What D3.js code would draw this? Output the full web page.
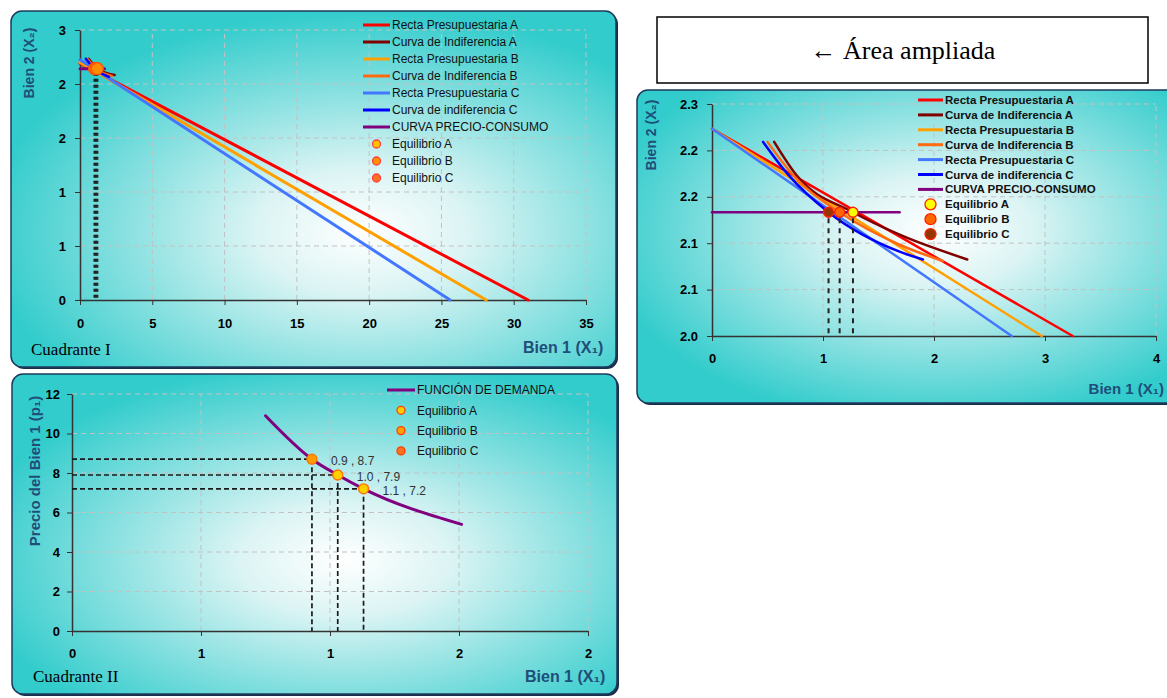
<!DOCTYPE html>
<html>
<head>
<meta charset="utf-8">
<script src="https://cdn.jsdelivr.net/npm/d3@7"></script>
<style>
  body { margin: 0; background: #fff; }
  svg { display: block; }
</style>
</head>
<body>
<svg width="1167" height="698"></svg>
<script>
// ---------- datos ----------
const legendNames = ["Recta Presupuestaria A", "Curva de Indiferencia A", "Recta Presupuestaria B",
  "Curva de Indiferencia B", "Recta Presupuestaria C", "Curva de indiferencia C", "CURVA PRECIO-CONSUMO"];
const eqNames = ["Equilibrio A", "Equilibrio B", "Equilibrio C"];

// Cuadrante I
const q1XTicks = [0, 5, 10, 15, 20, 25, 30, 35];
const q1YTicks = [0, 0.6, 1.2, 1.8, 2.4, 3.0];
const q1YLabels = ["0", "1", "1", "2", "2", "3"];
const q1RectaA = [[0, 2.63], [31.0, 0]];
const q1RectaB = [[0, 2.64], [28.1, 0]];
const q1RectaC = [[0, 2.67], [25.6, 0]];
const q1CurvaA = [[0.6, 2.68], [1.2, 2.57], [2.4, 2.50]];
const q1CurvaB = [[0.5, 2.68], [1.1, 2.57], [2.2, 2.49]];
const q1CurvaC = [[0.4, 2.68], [1.0, 2.57], [2.0, 2.48]];
const q1PrecioConsumo = [[0, 2.57], [1.7, 2.57]];
const q1Equilibrio = [[1.2, 2.57], [1.1, 2.57], [1.0, 2.57]];

// Área ampliada
const zXTicks = [0, 1, 2, 3, 4];
const zYTicks = [2.0, 2.06, 2.12, 2.18, 2.24, 2.3];
const zYLabels = ["2.0", "2.1", "2.1", "2.2", "2.2", "2.3"];
const zRectaA = [[0, 2.268], [3.25, 2.0]];
const zRectaB = [[0, 2.268], [2.97, 2.0]];
const zRectaC = [[0, 2.268], [2.70, 2.0]];
const zCurvaA = [[0.56, 2.251], [0.76, 2.208], [1.27, 2.16], [1.69, 2.131], [2.30, 2.099]];
const zCurvaB = [[0.50, 2.251], [0.73, 2.208], [1.15, 2.16], [1.69, 2.118], [2.08, 2.097]];
const zCurvaC = [[0.46, 2.251], [0.69, 2.208], [1.05, 2.16], [1.69, 2.109], [1.90, 2.099]];
const zPrecioConsumo = [[0, 2.16], [1.69, 2.16]];
const zEquilibrio = [[1.27, 2.16], [1.15, 2.16], [1.05, 2.16]];

// Cuadrante II
const q2XTicks = [0, 0.5, 1, 1.5, 2];
const q2XLabels = ["0", "1", "1", "2", "2"];
const q2YTicks = [0, 2, 4, 6, 8, 10, 12];
const demanda = [[0.75, 10.9], [0.93, 8.7], [1.03, 7.9], [1.13, 7.2], [1.51, 5.4]];
const q2Equilibrio = [[0.93, 8.7], [1.03, 7.9], [1.13, 7.2]];
const q2EqLabels = ["0.9 , 8.7", "1.0 , 7.9", "1.1 , 7.2"];

// ---------- estilos ----------
const lineColors = ["#ff0000", "#800000", "#ffa000", "#ff6a10", "#4477ff", "#0000ff", "#800080"];
const eqFill = ["#ffff00", "#ff6600", "#993300"];
const sans = "'Liberation Sans', Arial, sans-serif";
const serif = "'Liberation Serif', 'Times New Roman', serif";
const titleColor = "#1f4e79";

const svg = d3.select("svg");
const defs = svg.append("defs");

const addGradient = (id, cx, cy, r) => {
  const gr = defs.append("radialGradient").attr("id", id)
    .attr("cx", cx).attr("cy", cy).attr("r", r);
  gr.append("stop").attr("offset", "0%").attr("stop-color", "#ffffff");
  gr.append("stop").attr("offset", "28%").attr("stop-color", "#dcf4f4");
  gr.append("stop").attr("offset", "100%").attr("stop-color", "#33cccc");
};
addGradient("g1", "58%", "62%", "62%");
addGradient("g2", "55%", "45%", "62%");
addGradient("g3", "55%", "58%", "62%");

const drawBox = (x, y, w, h, grad) => {
  svg.append("rect").attr("x", x + 2).attr("y", y + 2).attr("width", w).attr("height", h)
    .attr("rx", 11).attr("fill", "#1a2e4c");
  svg.append("rect").attr("x", x).attr("y", y).attr("width", w).attr("height", h)
    .attr("rx", 11).attr("fill", `url(#${grad})`)
    .attr("stroke", "#1f3a5c").attr("stroke-width", 1.5);
};

const drawAxes = (x, y, xTicks, xLabels, yTicks, yLabels, xPad, yPad) => {
  const [y0, y1] = y.range();
  const [x0, x1] = x.range();
  const grid = svg.append("g").attr("stroke", "#c2c2c2").attr("stroke-dasharray", "5,4").attr("stroke-width", 1);
  grid.selectAll(".v").data(xTicks.slice(1)).join("line")
    .attr("x1", d => x(d)).attr("x2", d => x(d)).attr("y1", y0).attr("y2", y1);
  grid.selectAll(".h").data(yTicks.slice(1)).join("line")
    .attr("x1", x0).attr("x2", x1).attr("y1", d => y(d)).attr("y2", d => y(d));

  const ax = svg.append("g").attr("transform", `translate(0,${y0})`)
    .call(d3.axisBottom(x).tickValues(xTicks).tickFormat((d, i) => xLabels ? xLabels[i] : d)
      .tickSize(5).tickSizeOuter(0).tickPadding(xPad));
  const ay = svg.append("g").attr("transform", `translate(${x0},0)`)
    .call(d3.axisLeft(y).tickValues(yTicks).tickFormat((d, i) => yLabels ? yLabels[i] : d)
      .tickSize(5).tickSizeOuter(0).tickPadding(yPad));
  [ax, ay].forEach(a => {
    a.selectAll("text").attr("font-family", sans).attr("font-weight", "bold")
      .attr("font-size", 13).attr("fill", "#000");
    a.selectAll("line").attr("stroke", "#333");
    a.select(".domain").attr("stroke", "#333").attr("stroke-width", 1.5);
  });
};

const drawLegend = (items, x0, y0, dy, fontSize, weight, lineLen, r) => {
  const g = svg.append("g");
  items.forEach((it, i) => {
    const yy = y0 + i * dy;
    if (it.type === "line") {
      g.append("line").attr("x1", x0).attr("x2", x0 + lineLen).attr("y1", yy).attr("y2", yy)
        .attr("stroke", it.color).attr("stroke-width", 3);
    } else {
      g.append("circle").attr("cx", x0 + lineLen / 2).attr("cy", yy).attr("r", r)
        .attr("fill", it.color).attr("stroke", it.stroke).attr("stroke-width", 1.3);
    }
    g.append("text").attr("x", x0 + lineLen + 2).attr("y", yy).attr("dy", "0.35em")
      .attr("font-family", sans).attr("font-size", fontSize).attr("font-weight", weight)
      .attr("fill", "#111").text(it.label);
  });
};

const axisTitleY = (text, x, y, size) => {
  svg.append("text").attr("transform", `translate(${x},${y}) rotate(-90)`)
    .attr("text-anchor", "middle").attr("dy", "0.35em")
    .attr("font-family", sans).attr("font-weight", "bold").attr("font-size", size)
    .attr("fill", titleColor).text(text);
};
const axisTitleX = (text, x, y, size, anchor) => {
  svg.append("text").attr("x", x).attr("y", y).attr("dy", "0.35em")
    .attr("text-anchor", anchor || "start")
    .attr("font-family", sans).attr("font-weight", "bold").attr("font-size", size)
    .attr("fill", titleColor).text(text);
};

const curve = (sx, sy, data, color, width, kind) => {
  const line = d3.line().x(d => sx(d[0])).y(d => sy(d[1]))
    .curve(kind === "smooth" ? d3.curveMonotoneX : d3.curveLinear);
  svg.append("path").datum(data).attr("d", line)
    .attr("fill", "none").attr("stroke", color).attr("stroke-width", width)
    .attr("stroke-linecap", "round");
};

const lineItems = legendNames.map((n, i) => ({label: n, color: lineColors[i], type: "line"}));
const dotItems = eqNames.map((n, i) => ({label: n, color: eqFill[i], stroke: "#ff2000", type: "dot"}));

// ---------- Cuadrante I ----------
drawBox(11, 11, 605, 356, "g1");
const x1 = d3.scaleLinear().domain([0, 35]).range([80, 586]);
const y1 = d3.scaleLinear().domain([0, 3]).range([300, 30]);
drawAxes(x1, y1, q1XTicks, null, q1YTicks, q1YLabels, 14, 9);

[q1RectaA, q1RectaB, q1RectaC].forEach((d, i) => curve(x1, y1, d, lineColors[i * 2], 3, "line"));
[q1CurvaA, q1CurvaB, q1CurvaC].forEach((d, i) => curve(x1, y1, d, lineColors[i * 2 + 1], 2.5, "smooth"));
curve(x1, y1, q1PrecioConsumo, lineColors[6], 3, "line");
svg.append("g").selectAll("line").data(q1Equilibrio).join("line")
  .attr("x1", d => x1(d[0])).attr("x2", d => x1(d[0]))
  .attr("y1", d => y1(d[1]) + 4).attr("y2", y1(0))
  .attr("stroke", "#222").attr("stroke-width", 2).attr("stroke-dasharray", "3,3");
svg.append("g").selectAll("circle").data(q1Equilibrio.slice().reverse()).join("circle")
  .attr("cx", d => x1(d[0])).attr("cy", d => y1(d[1])).attr("r", 6)
  .attr("fill", "#ff8c00").attr("stroke", "#ff5000").attr("stroke-width", 1.2);

drawLegend(lineItems.concat(dotItems.map((d, i) => ({...d, color: ["#ffc000", "#ff9000", "#ff7020"][i], stroke: "#ff4040"}))),
  363, 25, 17, 12, "normal", 27, 4);
axisTitleY("Bien 2 (X₂)", 29, 63, 14);
axisTitleX("Bien 1 (X₁)", 523, 347, 16);
svg.append("text").attr("x", 31).attr("y", 355).attr("font-family", serif)
  .attr("font-size", 17).text("Cuadrante I");

// ---------- Área ampliada ----------
svg.append("rect").attr("x", 657).attr("y", 17).attr("width", 491).attr("height", 66)
  .attr("fill", "#fff").attr("stroke", "#000").attr("stroke-width", 1.5);
svg.append("text").attr("x", 903).attr("y", 59).attr("text-anchor", "middle")
  .attr("font-family", serif).attr("font-size", 26).text("← Área ampliada");

drawBox(637, 90, 545, 313, "g2");
const x2 = d3.scaleLinear().domain([0, 4]).range([712, 1156]);
const y2 = d3.scaleLinear().domain([2.0, 2.3]).range([336, 104]);
drawAxes(x2, y2, zXTicks, null, zYTicks, zYLabels, 13, 9);

[zRectaA, zRectaB, zRectaC].forEach((d, i) => curve(x2, y2, d, lineColors[i * 2], 2.5, "line"));
[zCurvaA, zCurvaB, zCurvaC].forEach((d, i) => curve(x2, y2, d, lineColors[i * 2 + 1], 2.5, "smooth"));
curve(x2, y2, zPrecioConsumo, lineColors[6], 2.5, "line");
svg.append("g").selectAll("line").data(zEquilibrio).join("line")
  .attr("x1", d => x2(d[0])).attr("x2", d => x2(d[0]))
  .attr("y1", d => y2(d[1]) + 6).attr("y2", y2(2.0))
  .attr("stroke", "#222").attr("stroke-width", 2).attr("stroke-dasharray", "5,5");
svg.append("g").selectAll("circle").data(zEquilibrio).join("circle")
  .attr("cx", d => x2(d[0])).attr("cy", d => y2(d[1])).attr("r", 5)
  .attr("fill", (d, i) => eqFill[i]).attr("stroke", "#ff2000").attr("stroke-width", 1.3);

drawLegend(lineItems.concat(dotItems), 918, 100, 14.9, 11.5, "bold", 25, 5.5);
axisTitleY("Bien 2 (X₂)", 651, 135, 14);
axisTitleX("Bien 1 (X₁)", 1164, 389, 15, "end");

// ---------- Cuadrante II ----------
drawBox(12, 374, 605, 320, "g3");
const x3 = d3.scaleLinear().domain([0, 2]).range([72, 588]);
const y3 = d3.scaleLinear().domain([0, 12]).range([631, 394]);
drawAxes(x3, y3, q2XTicks, q2XLabels, q2YTicks, null, 13, 7);

const dashes = svg.append("g").attr("stroke", "#1a1a1a").attr("stroke-width", 1.7).attr("stroke-dasharray", "5,3");
dashes.selectAll(".h").data(q2Equilibrio).join("line")
  .attr("x1", x3(0)).attr("x2", d => x3(d[0])).attr("y1", d => y3(d[1])).attr("y2", d => y3(d[1]));
dashes.selectAll(".v").data(q2Equilibrio).join("line")
  .attr("x1", d => x3(d[0])).attr("x2", d => x3(d[0])).attr("y1", d => y3(d[1])).attr("y2", y3(0));
curve(x3, y3, demanda, lineColors[6], 3, "smooth");
svg.append("g").selectAll("circle").data(q2Equilibrio).join("circle")
  .attr("cx", d => x3(d[0])).attr("cy", d => y3(d[1])).attr("r", 5)
  .attr("fill", (d, i) => i === 0 ? "#ff9a00" : "#ffd000").attr("stroke", "#ff7000").attr("stroke-width", 1.3);
svg.append("g").selectAll("text").data(q2Equilibrio).join("text")
  .attr("x", d => x3(d[0]) + 19).attr("y", d => y3(d[1]) + 2).attr("dy", "0.35em")
  .attr("font-family", sans).attr("font-size", 12).attr("fill", "#333")
  .text((d, i) => q2EqLabels[i]);

drawLegend([{label: "FUNCIÓN DE DEMANDA", color: lineColors[6], type: "line"}]
  .concat(dotItems.map((d, i) => ({...d, color: ["#ffcc00", "#ffa000", "#ff7020"][i], stroke: "#ff4000"}))),
  387, 390, 20.3, 12, "normal", 28, 4);
axisTitleY("Precio del Bien 1 (p₁)", 35, 471, 15);
axisTitleX("Bien 1 (X₁)", 525, 676, 16);
svg.append("text").attr("x", 33).attr("y", 682).attr("font-family", serif)
  .attr("font-size", 17).text("Cuadrante II");
</script>
</body>
</html>
